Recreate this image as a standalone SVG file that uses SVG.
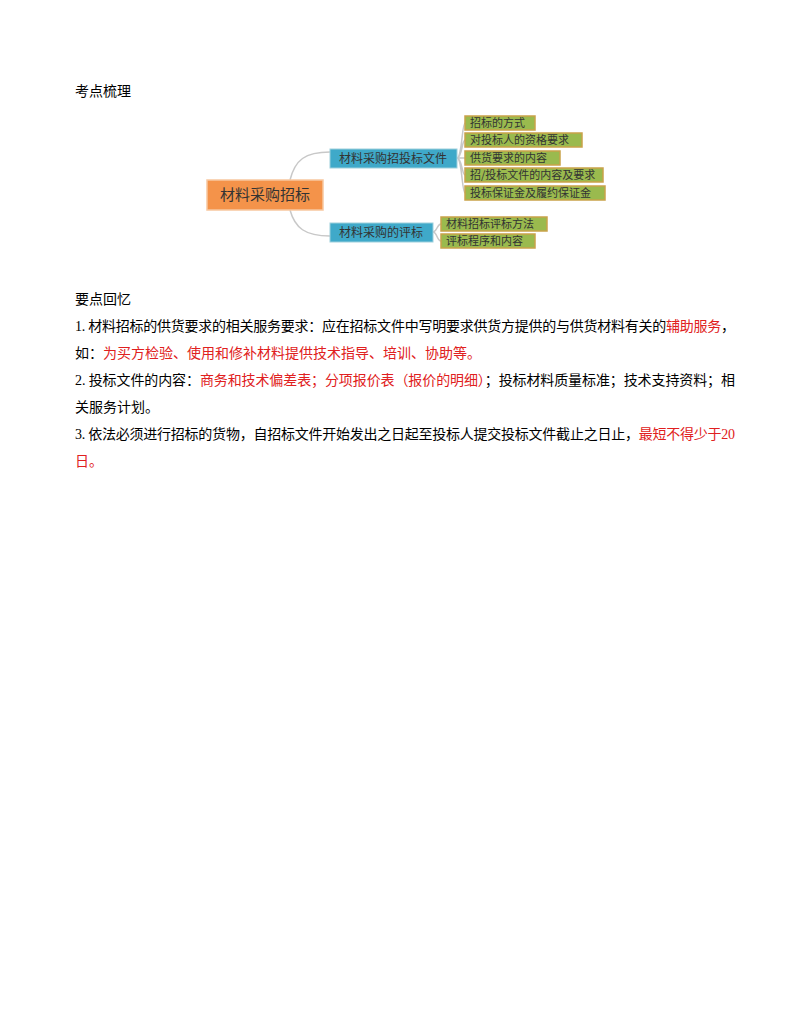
<svg xmlns="http://www.w3.org/2000/svg" width="800" height="1035" viewBox="0 0 800 1035">
<style>
.t{font-family:"Liberation Serif","Noto Sans CJK SC",serif;font-size:14px;fill:#000}
.r{fill:#e02020}
.n{font-family:"Noto Sans CJK SC",sans-serif;fill:#333}
.leaf{fill:#9aba4e;stroke:#c9a24a;stroke-width:1.5}
.mid{fill:#3fa9c9;stroke:#9ecfdc;stroke-width:1}
.c{fill:none;stroke:#c8c8c8;stroke-width:1.5}
</style>
<rect width="800" height="1035" fill="#fff"/>
<text class="t" x="75" y="96">考点梳理</text>
<g id="connectors">
<path class="c" d="M290 180 C295 160 305 152 330 152"/>
<path class="c" d="M290 210 C295 228 305 236 330 236"/>
<path class="c" d="M457 158 C462 158 462 123 465 123 M457 158 C462 158 462 140 465 140 M457 158 L465 158 M457 158 C462 158 462 175 465 175 M457 158 C462 158 462 193 465 193"/>
<path class="c" d="M433 232 C437 232 437 224 441 224 M433 232 C437 232 437 241 441 241"/>
</g>
<g id="root"><rect x="207" y="180" width="116" height="30" fill="#f4934a" stroke="#f7c7a0" stroke-width="1.5"/><text class="n" x="265" y="200" font-size="15" text-anchor="middle">材料采购招标</text></g>
<g id="n1"><rect class="mid" x="330" y="149" width="127" height="19"/><text class="n" x="393" y="163" font-size="12" text-anchor="middle">材料采购招投标文件</text></g>
<g id="n2"><rect class="mid" x="330" y="223" width="103" height="19"/><text class="n" x="381" y="237" font-size="12" text-anchor="middle">材料采购的评标</text></g>
<g id="l1"><rect class="leaf" x="465" y="116" width="70" height="14"/><text class="n" x="470" y="127" font-size="11">招标的方式</text></g>
<g id="l2"><rect class="leaf" x="465" y="133" width="117" height="14"/><text class="n" x="470" y="144" font-size="11">对投标人的资格要求</text></g>
<g id="l3"><rect class="leaf" x="465" y="151" width="95" height="14"/><text class="n" x="470" y="162" font-size="11">供货要求的内容</text></g>
<g id="l4"><rect class="leaf" x="465" y="168" width="138" height="14"/><text class="n" x="470" y="179" font-size="11">招/投标文件的内容及要求</text></g>
<g id="l5"><rect class="leaf" x="465" y="186" width="140" height="14"/><text class="n" x="470" y="197" font-size="11">投标保证金及履约保证金</text></g>
<g id="l6"><rect class="leaf" x="441" y="217" width="106" height="14"/><text class="n" x="446" y="228" font-size="11">材料招标评标方法</text></g>
<g id="l7"><rect class="leaf" x="441" y="234" width="94" height="14"/><text class="n" x="446" y="245" font-size="11">评标程序和内容</text></g>
<text class="t" x="75" y="304">要点回忆</text>
<text class="t" x="75" y="331" textLength="660" lengthAdjust="spacing">1. 材料招标的供货要求的相关服务要求：应在招标文件中写明要求供货方提供的与供货材料有关的<tspan class="r">辅助服务</tspan>，</text>
<text class="t" x="75" y="358">如：<tspan class="r">为买方检验、使用和修补材料提供技术指导、培训、协助等。</tspan></text>
<text class="t" x="75" y="385" textLength="660" lengthAdjust="spacing">2. 投标文件的内容：<tspan class="r">商务和技术偏差表；分项报价表（报价的明细）</tspan>；投标材料质量标准；技术支持资料；相</text>
<text class="t" x="75" y="412">关服务计划。</text>
<text class="t" x="75" y="439" textLength="660" lengthAdjust="spacing">3. 依法必须进行招标的货物，自招标文件开始发出之日起至投标人提交投标文件截止之日止，<tspan class="r">最短不得少于20</tspan></text>
<text class="t r" x="75" y="466">日。</text>
</svg>
